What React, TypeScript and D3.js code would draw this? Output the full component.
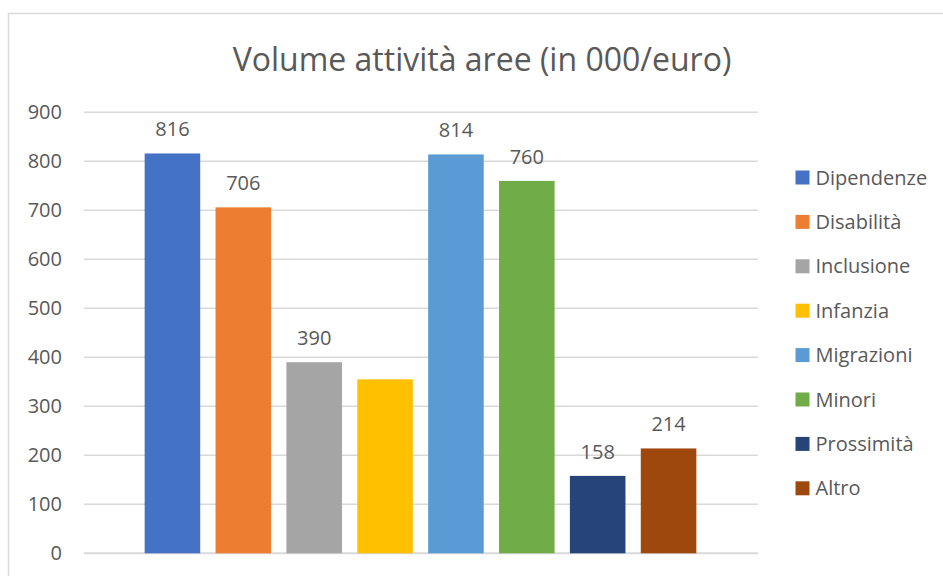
import React from "react";
import * as d3 from "d3";

const categories = ["Dipendenze", "Disabilità", "Inclusione", "Infanzia", "Migrazioni", "Minori", "Prossimità", "Altro"];
const values = [816, 706, 390, 355, 814, 760, 158, 214];
const showLabel = [true, true, true, false, true, true, true, true];
const colors = ["#4472C4", "#ED7D31", "#A5A5A5", "#FFC000", "#5B9BD5", "#70AD47", "#264478", "#9E480E"];
const yTicks = [0, 100, 200, 300, 400, 500, 600, 700, 800, 900];
const title = "Volume attività aree (in 000/euro)";

const W = 943, H = 576;
const FONT = "Open Sans, Noto Sans, sans-serif";
const TXT = "#595959";

export default function App() {
  const y = d3.scaleLinear().domain([0, 900]).range([553.3, 112.3]);
  const x = d3.scaleBand<string>().domain(categories).range([137, 704]).paddingInner(0.216).paddingOuter(0.108);
  const gridX0 = 84, gridX1 = 758;
  return (
    <svg width={W} height={H} style={{ position: "absolute", left: 0, top: 0 }}>
      <rect x={0} y={0} width={W} height={H} fill="#fff" />
      <rect x={8.5} y={13.5} width={W + 10} height={H} fill="#fff" stroke="#d9d9d9" strokeWidth={1.5} />
      <text x={482} y={60} dy="0.35em" textAnchor="middle" fontFamily={FONT} fontSize={32} fill={TXT}>{title}</text>
      {yTicks.map((t) => (
        <g key={t}>
          <line x1={gridX0} x2={gridX1} y1={y(t)} y2={y(t)} stroke="#d9d9d9" strokeWidth={t === 0 ? 2 : 1.5} />
          <text x={62} y={y(t)} dy="0.35em" textAnchor="end" fontFamily={FONT} fontSize={20} fill={TXT}>{t}</text>
        </g>
      ))}
      {categories.map((c, i) => (
        <g key={c}>
          <rect x={x(c)} y={y(values[i])} width={x.bandwidth()} height={y(0) - y(values[i])} fill={colors[i]} />
          {showLabel[i] && (
            <text x={(x(c) as number) + x.bandwidth() / 2} y={y(values[i]) - 24} dy="0.35em" textAnchor="middle" fontFamily={FONT} fontSize={20} fill={TXT}>{values[i]}</text>
          )}
        </g>
      ))}
      {categories.map((c, i) => (
        <g key={"l" + c} transform={`translate(795.5, ${177.5 + i * 44.4})`}>
          <rect x={0} y={-7} width={14} height={14} fill={colors[i]} />
          <text x={20} y={0} dy="0.35em" fontFamily={FONT} fontSize={20} fill={TXT}>{c}</text>
        </g>
      ))}
    </svg>
  );
}
